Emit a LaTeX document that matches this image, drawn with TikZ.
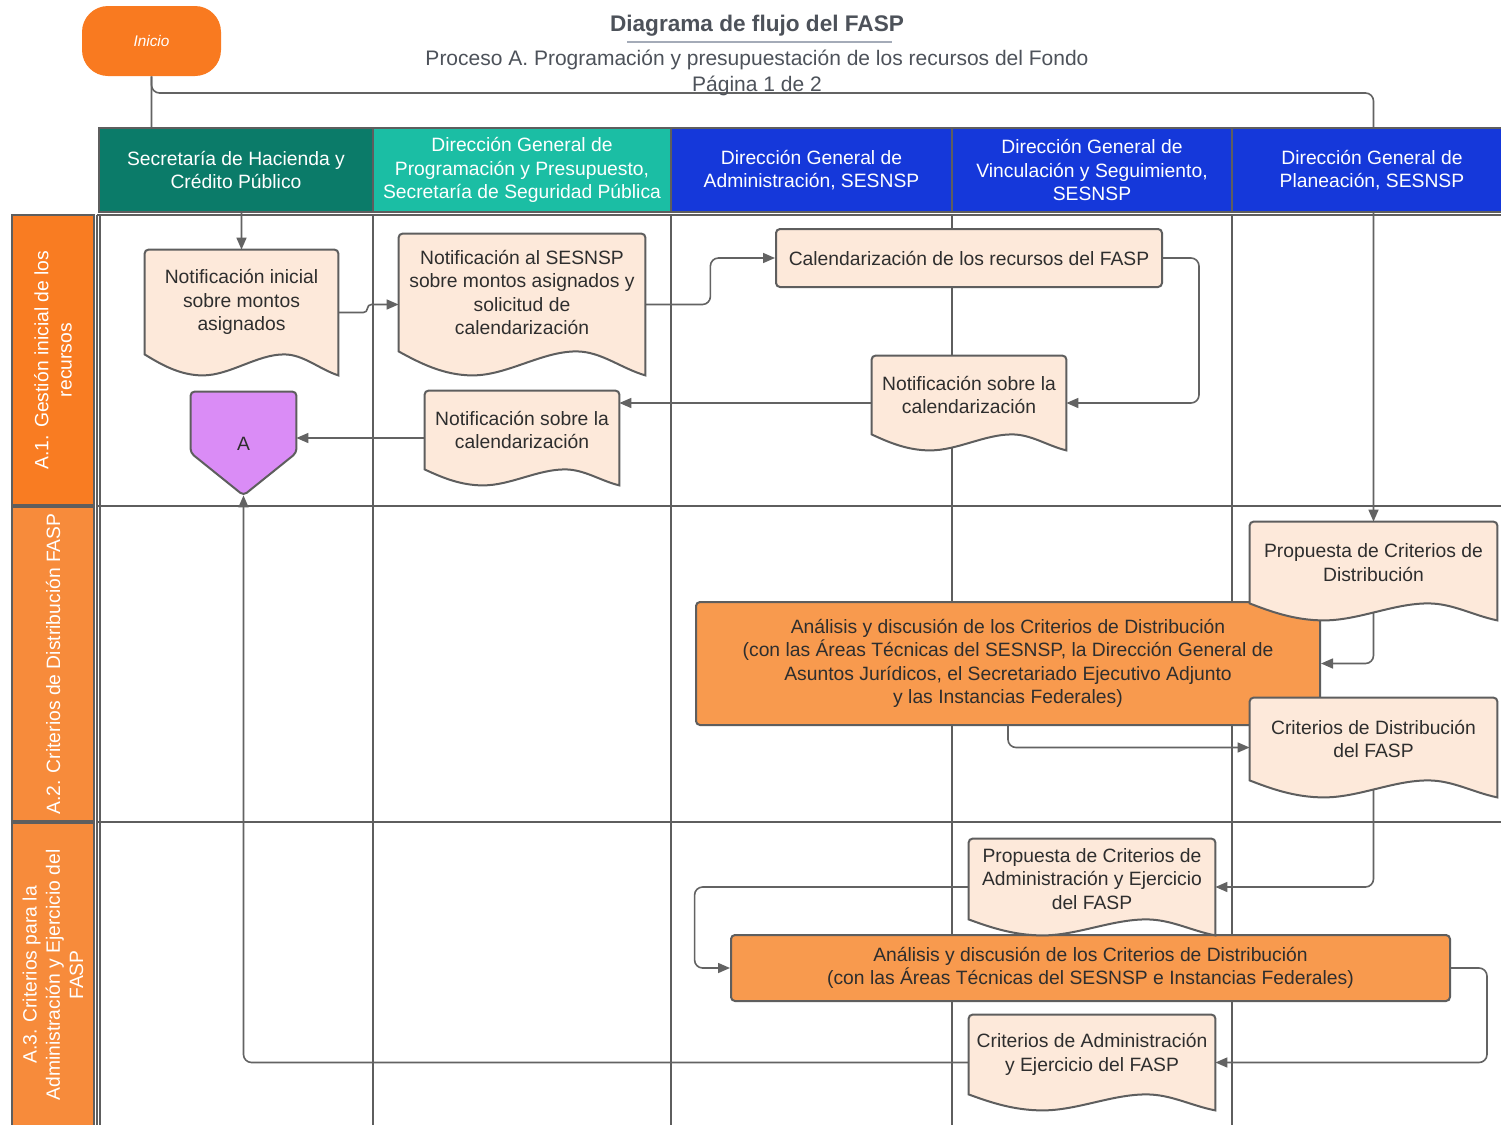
\documentclass[tikz,border=0pt]{standalone}
\usepackage{fontspec}
\setmainfont{Liberation Sans}
\usetikzlibrary{arrows.meta,calc}
\pgfdeclarelayer{grid}
\pgfdeclarelayer{conn}
\pgfdeclarelayer{shape}
\pgfdeclarelayer{top}
\pgfsetlayers{grid,conn,shape,main,top}
\definecolor{gridc}{HTML}{5E5E5E}
\definecolor{connc}{HTML}{636363}
\definecolor{docfill}{HTML}{FDE9DA}
\definecolor{hgreen}{HTML}{0B7B69}
\definecolor{hteal}{HTML}{1BBEA4}
\definecolor{hblue}{HTML}{1538DA}
\definecolor{lane1c}{HTML}{F97C22}
\definecolor{lane2c}{HTML}{F78B3B}
\definecolor{procc}{HTML}{F89A4E}
\definecolor{inic}{HTML}{F97A20}
\definecolor{purpc}{HTML}{DA8CF6}
\definecolor{txtc}{HTML}{2E2E2E}
\definecolor{titc}{HTML}{4D525A}
\definecolor{ulc}{HTML}{A4ABB8}
\newcommand\bodyfont{\fontsize{9.65pt}{11.65pt}\selectfont}
\newcommand\docshape[2]{%
\begin{pgfonlayer}{shape}
\path[draw=gridc, fill=docfill, line width=1pt]
 let \p1=(#1.south west), \p2=(#1.north east), \n1={\x2-\x1} in
 (\x1,\y1) [rounded corners=2pt] -- (\x1,\y2) -- (\x2,\y2) [sharp corners] -- (\x2,{\y1-#2})
 .. controls ({\x2-0.1*\n1},{\y1-0.7*#2}) and ({\x1+0.82*\n1},\y1) .. ({\x1+0.72*\n1},\y1)
 .. controls ({\x1+0.58*\n1},\y1) and ({\x1+0.44*\n1},{\y1-#2}) .. ({\x1+0.3*\n1},{\y1-#2})
 .. controls ({\x1+0.18*\n1},{\y1-#2}) and ({\x1+0.08*\n1},{\y1-0.45*#2}) .. (\x1,\y1) -- cycle;
\end{pgfonlayer}}
\begin{document}
\begin{tikzpicture}[x=0.5pt,y=-0.5pt,
 gridline/.style={draw=gridc, line width=1pt},
 lanebox/.style={draw=gridc, line width=1pt, rotate=90, text=white, align=center, font=\bodyfont, inner sep=0pt},
 hdr/.style={draw=gridc, line width=1pt, text=white, align=center, font=\bodyfont, inner sep=0pt, minimum height=42pt},
 doctext/.style={inner sep=0pt, align=center, text=txtc, font=\bodyfont},
 procbox/.style={draw=gridc, line width=1pt, rounded corners=2pt, inner sep=0pt, align=center, text=txtc, font=\bodyfont},
 conn/.style={draw=connc, line width=0.8pt, rounded corners=4pt, -{Triangle[length=6pt,width=5pt]}},
]
\useasboundingbox (0,0) rectangle (1501,1125);
\begin{pgfonlayer}{grid}
\fill[white] (0,0) rectangle (1501,1125);
\foreach \gx in {97,100,373,671,952,1232} \draw[gridline] (\gx,215) -- (\gx,1130);
\foreach \gy in {215,506,822} \draw[gridline] (97,\gy) -- (1510,\gy);
\node[lanebox, fill=lane1c, minimum width=145pt, minimum height=41pt] (lane1) at (53,360) {A.1. Gestión inicial de los\\recursos};
\node[lanebox, fill=lane2c, minimum width=157pt, minimum height=41pt] (lane2) at (53,664) {A.2. Criterios de Distribución FASP};
\node[lanebox, fill=lane2c, minimum width=152pt, minimum height=41pt] (lane3) at (53,975) {A.3. Criterios para la\\Administración y Ejercicio del\\FASP};
\end{pgfonlayer}

% title
\node[font=\fontsize{11.3pt}{13pt}\selectfont\bfseries, text=titc, inner sep=0pt] (title) at (757,26) {Diagrama de flujo del FASP};
\draw[ulc, line width=1pt] (627,42) -- (892,42);
\node[font=\fontsize{10.5pt}{13pt}\selectfont, text=titc, align=center, inner sep=0pt] (sub) at (757,73) {Proceso A. Programación y presupuestación de los recursos del Fondo\\Página 1 de 2};

% start
\node[fill=inic, rounded corners=13pt, minimum width=69.5pt, minimum height=35pt, inner sep=0pt, text=white, font=\fontsize{7.7pt}{9pt}\selectfont\itshape] (ini) at (151.5,41) {Inicio};

% documents (text)
\node[doctext, minimum width=96.5pt, minimum height=52pt] (d1) at (241.5,302) {Notificación inicial\\sobre montos\\asignados};
\node[doctext, minimum width=123pt, minimum height=58.5pt] (d2) at (522,292.5) {Notificación al SESNSP\\sobre montos asignados y\\solicitud de\\calendarización};
\node[doctext, minimum width=97pt, minimum height=39pt] (d3) at (969,395) {Notificación sobre la\\calendarización};
\node[doctext, minimum width=97pt, minimum height=39pt] (d4) at (522,430) {Notificación sobre la\\calendarización};
\node[doctext, minimum width=123.5pt, minimum height=40.5pt] (d5) at (1373.5,562.5) {Propuesta de Criterios de\\Distribución};
\node[doctext, minimum width=123.5pt, minimum height=41pt] (d6) at (1373.5,739) {Criterios de Distribución\\del FASP};
\node[doctext, minimum width=123pt, minimum height=40pt] (d7) at (1092,879) {Propuesta de Criterios de\\Administración y Ejercicio\\del FASP};
\node[doctext, minimum width=123pt, minimum height=39.5pt] (d8) at (1092,1054.5) {Criterios de Administración\\y Ejercicio del FASP};

% process box
\node[procbox, fill=docfill, minimum width=193pt, minimum height=29pt] (cal) at (969,258) {Calendarización de los recursos del FASP};

% off-page connector
\node[inner sep=0pt, minimum width=52.5pt, minimum height=51.5pt, text=txtc, font=\bodyfont] (A) at (243.5,443.5) {A};

\begin{pgfonlayer}{shape}
\node[procbox, fill=procc, minimum width=312pt, minimum height=61.5pt] (an1) at (1008,663.5) {Análisis y discusión de los Criterios de Distribución\\(con las Áreas Técnicas del SESNSP, la Dirección General de\\Asuntos Jurídicos, el Secretariado Ejecutivo Adjunto\\y las Instancias Federales)};
\node[procbox, fill=procc, minimum width=359.5pt, minimum height=33pt] (an2) at (1090.5,968) {Análisis y discusión de los Criterios de Distribución\\(con las Áreas Técnicas del SESNSP e Instancias Federales)};
\path[draw=gridc, fill=purpc, line width=1pt, rounded corners=2pt] (A.north west) -- (A.north east) -- ($(A.north east)!0.59!(A.south east)$) -- (A.south) -- ($(A.north west)!0.59!(A.south west)$) -- cycle;
\end{pgfonlayer}
\docshape{d1}{10.5pt}
\docshape{d2}{12pt}
\docshape{d3}{8pt}
\docshape{d4}{8pt}
\docshape{d5}{8.5pt}
\docshape{d6}{8.5pt}
\docshape{d7}{8pt}
\docshape{d8}{8pt}

% headers
\begin{pgfonlayer}{top}
\node[hdr, fill=hgreen, minimum width=137pt] (h1) at (236,170) {Secretaría de Hacienda y\\Crédito Público};
\node[hdr, fill=hteal, minimum width=149pt] (h2) at (522,170) {Dirección General de\\Programación y Presupuesto,\\Secretaría de Seguridad Pública};
\node[hdr, fill=hblue, minimum width=140.5pt] (h3) at (811.5,170) {Dirección General de\\Administración, SESNSP};
\node[hdr, fill=hblue, minimum width=140pt] (h4) at (1092,170) {Dirección General de\\Vinculación y Seguimiento,\\SESNSP};
\node[hdr, fill=hblue, minimum width=140pt] (h5) at (1372,170) {Dirección General de\\Planeación, SESNSP};
\end{pgfonlayer}

% connectors
\begin{pgfonlayer}{conn}
\draw[conn] (ini.south) -- (ini.south |- 0,170) -| (d1.north);
\draw[conn] (ini.south) |- (d5.north |- 0,93) -- (d5.north);
\draw[conn, rounded corners=2pt] ([yshift=-5.25pt]d1.east) -- ++(14.5pt,0) |- ([yshift=-6pt]d2.west);
\draw[conn] ([yshift=-6pt]d2.east) -- ++(32.5pt,0) |- (cal.west);
\draw[conn] (cal.east) -- ++(18pt,0) |- ([yshift=-4pt]d3.east);
\coordinate (c6) at ([yshift=-4pt]d3.west);
\draw[conn] (c6) -- (c6 -| d4.east);
\coordinate (c7) at ([yshift=-4pt]d4.west);
\draw[conn] (c7) -- (c7 -| A.east);
\draw[conn] (d5.center) |- (an1.east);
\draw[conn] (an1.south) |- ([yshift=-4.25pt]d6.west);
\draw[conn] (d6.center) |- ([yshift=-4pt]d7.east);
\draw[conn] ([yshift=-4pt]d7.west) -- ++(-137pt,0) |- (an2.west);
\draw[conn] (an2.east) -- ++(18pt,0) |- ([yshift=-4pt]d8.east);
\draw[conn] ([yshift=-4pt]d8.west) -| (A.south);
\end{pgfonlayer}
\end{tikzpicture}
\end{document}
